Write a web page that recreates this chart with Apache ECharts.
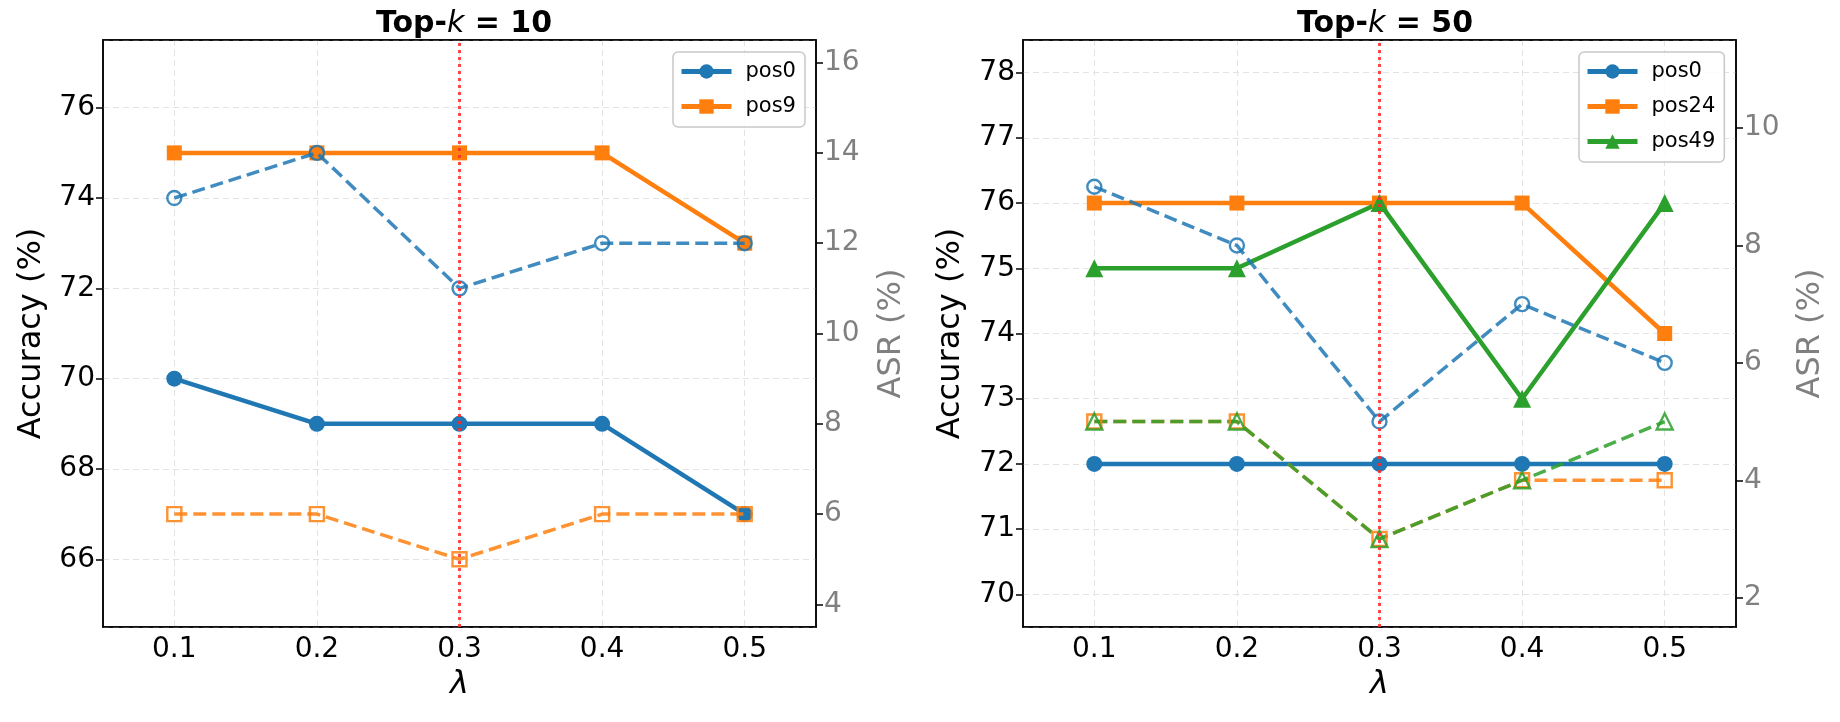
<!DOCTYPE html>
<html>
<head>
<meta charset="utf-8">
<script src="https://cdn.jsdelivr.net/npm/echarts@6/dist/echarts.min.js"></script>
<style>
  html, body { margin: 0; padding: 0; background: #fff; }
  #main { width: 1840px; height: 722px; }
</style>
</head>
<body>
<div id="main"></div>
<script>
// lambda values on the x axis
var lambdas = ['0.1', '0.2', '0.3', '0.4', '0.5'];

// Top-k = 10
var acc10Pos0 = [70, 69, 69, 69, 67];
var acc10Pos9 = [75, 75, 75, 75, 73];
var asr10Pos0 = [13, 14, 11, 12, 12];
var asr10Pos9 = [6, 6, 5, 6, 6];

// Top-k = 50
var acc50Pos0 = [72, 72, 72, 72, 72];
var acc50Pos24 = [76, 76, 76, 76, 74];
var acc50Pos49 = [75, 75, 76, 73, 76];
var asr50Pos0 = [9, 8, 5, 7, 6];
var asr50Pos24 = [5, 5, 3, 4, 4];
var asr50Pos49 = [5, 5, 3, 4, 5];

// axis ranges
var accLim10 = [64.5, 77.5];
var asrLim10 = [3.5, 16.5];
var accLim50 = [69.5, 78.5];
var asrLim50 = [1.5, 11.5];

var BLUE = '#1f77b4', ORANGE = '#ff7f0e', GREEN = '#2ca02c';
var FONT = 'DejaVu Sans';

var myChart = echarts.init(document.getElementById('main'));

function xAxisFor(grid) {
  return {
    type: 'category', gridIndex: grid, data: lambdas, boundaryGap: true,
    name: 'λ', nameLocation: 'middle', nameGap: 36,
    nameTextStyle: { fontFamily: FONT, fontSize: 32, fontStyle: 'italic', color: '#000' },
    axisLine: { lineStyle: { color: '#000', width: 1.5 } },
    axisTick: { alignWithLabel: true, length: 7, lineStyle: { color: '#000', width: 1.5 } },
    axisLabel: { fontFamily: FONT, fontSize: 28, color: '#000', margin: 9 },
    splitLine: { show: true, alignWithLabel: true, lineStyle: { color: '#e3e3e3', type: [6, 4], width: 1 } }
  };
}

// plain line on top of the grid, so the top frame is not covered by the gridlines
function topFrame(grid) {
  return {
    type: 'category', gridIndex: grid, data: lambdas, position: 'top',
    axisLine: { show: true, lineStyle: { color: '#000', width: 1.5 } },
    axisTick: { show: false }, axisLabel: { show: false }, splitLine: { show: false }
  };
}

function accAxis(grid, lim, split, gap) {
  return {
    type: 'value', gridIndex: grid, min: lim[0], max: lim[1], splitNumber: split,
    position: 'left',
    name: 'Accuracy (%)', nameLocation: 'middle', nameGap: gap,
    nameTextStyle: { fontFamily: FONT, fontSize: 32, color: '#000' },
    axisLine: { show: true, lineStyle: { color: '#000', width: 1.5 } },
    axisTick: { show: true, length: 7, lineStyle: { color: '#000', width: 1.5 } },
    axisLabel: { fontFamily: FONT, fontSize: 28, color: '#000', margin: 8, showMinLabel: false, showMaxLabel: false },
    splitLine: { show: true, lineStyle: { color: '#e3e3e3', type: [6, 4], width: 1 } }
  };
}

function asrAxis(grid, lim, split, gap) {
  return {
    type: 'value', gridIndex: grid, min: lim[0], max: lim[1], splitNumber: split,
    position: 'right',
    name: 'ASR (%)', nameLocation: 'middle', nameGap: gap,
    nameTextStyle: { fontFamily: FONT, fontSize: 32, color: '#808080' },
    axisLine: { show: true, lineStyle: { color: '#000', width: 1.5 } },
    axisTick: { show: true, length: 7, lineStyle: { color: '#000', width: 1.5 } },
    axisLabel: { fontFamily: FONT, fontSize: 28, color: '#808080', margin: 8, showMinLabel: false, showMaxLabel: false },
    splitLine: { show: false }
  };
}

function accSeries(name, data, color, symbol, size, xi, yi) {
  return {
    name: name, type: 'line', data: data, xAxisIndex: xi, yAxisIndex: yi,
    symbol: symbol, symbolSize: size, showSymbol: true,
    lineStyle: { color: color, width: 4.5 },
    itemStyle: { color: color },
    z: 3
  };
}

function asrSeries(name, data, color, symbol, size, xi, yi) {
  return {
    name: name, type: 'line', data: data, xAxisIndex: xi, yAxisIndex: yi,
    symbol: symbol, symbolSize: size, showSymbol: true,
    lineStyle: { color: color, width: 3.5, type: [13, 6], opacity: 0.85 },
    itemStyle: { color: 'rgba(255,255,255,0)', borderColor: color, borderWidth: 2.4, opacity: 0.85 },
    z: 4
  };
}

function redLine() {
  return {
    silent: true, symbol: 'none', label: { show: false },
    lineStyle: { color: 'rgba(255,40,40,0.85)', type: [3, 4], width: 3 },
    data: [{ xAxis: '0.3' }]
  };
}

var series = [
  accSeries('pos0', acc10Pos0, BLUE, 'circle', 16, 0, 0),
  accSeries('pos9', acc10Pos9, ORANGE, 'rect', 15, 0, 0),
  asrSeries('pos0 ASR k10', asr10Pos0, BLUE, 'circle', 14, 0, 1),
  asrSeries('pos9 ASR k10', asr10Pos9, ORANGE, 'rect', 14, 0, 1),

  accSeries('pos0', acc50Pos0, BLUE, 'circle', 16, 1, 2),
  accSeries('pos24', acc50Pos24, ORANGE, 'rect', 15, 1, 2),
  accSeries('pos49', acc50Pos49, GREEN, 'triangle', 18, 1, 2),
  asrSeries('pos0 ASR k50', asr50Pos0, BLUE, 'circle', 14, 1, 3),
  asrSeries('pos24 ASR k50', asr50Pos24, ORANGE, 'rect', 14, 1, 3),
  asrSeries('pos49 ASR k50', asr50Pos49, GREEN, 'triangle', 16, 1, 3)
];
series[0].markLine = redLine();
series[4].markLine = redLine();

function legendFor(names, left) {
  return {
    data: names, orient: 'vertical', left: left, top: 52,
    itemWidth: 50, itemHeight: 18, itemGap: 14,
    padding: [9, 9, 10, 6],
    borderColor: '#c8c8c8', borderWidth: 1.5, borderRadius: 5,
    backgroundColor: 'rgba(255,255,255,0.85)',
    selectedMode: false,
    lineStyle: { width: 5 },
    textStyle: { fontFamily: FONT, fontSize: 21, color: '#000', padding: [0, 0, 0, 9] }
  };
}

function titleFor(num, center) {
  return {
    text: '{b|Top-}{i|k}{b| = ' + num + '}',
    left: center, top: 4, textAlign: 'center',
    textStyle: {
      rich: {
        b: { fontFamily: FONT, fontSize: 30, fontWeight: 'bold', color: '#000' },
        i: { fontFamily: FONT, fontSize: 30, fontStyle: 'italic', fontWeight: 'normal', color: '#000' }
      }
    }
  };
}

var option = {
  backgroundColor: '#fff',
  animation: false,
  title: [titleFor(10, 459), titleFor(50, 1380)],
  legend: [legendFor(['pos0', 'pos9'], 673), legendFor(['pos0', 'pos24', 'pos49'], 1579)],
  grid: [
    { left: 103, top: 40, width: 713, height: 587, show: true, borderColor: '#000', borderWidth: 1.5, containLabel: false },
    { left: 1023, top: 40, width: 713, height: 587, show: true, borderColor: '#000', borderWidth: 1.5, containLabel: false }
  ],
  xAxis: [xAxisFor(0), xAxisFor(1), topFrame(0), topFrame(1)],
  yAxis: [
    accAxis(0, accLim10, 6, 55),
    asrAxis(0, asrLim10, 6, 60),
    accAxis(1, accLim50, 9, 56),
    asrAxis(1, asrLim50, 5, 59)
  ],
  series: series
};

myChart.setOption(option);
</script>
</body>
</html>
